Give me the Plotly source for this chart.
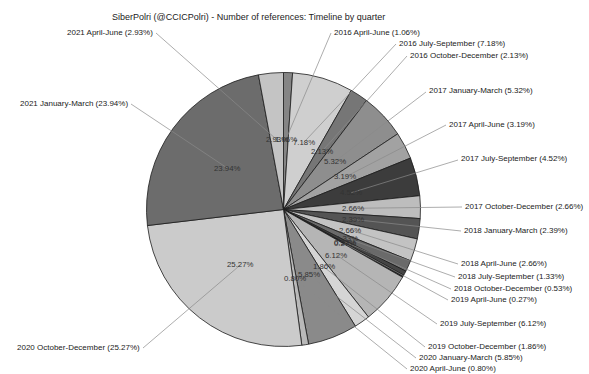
import math
import plotly.graph_objects as go

# Quarterly share of references (percent of total)
quarters = [
    "2016 April-June", "2016 July-September", "2016 October-December",
    "2017 January-March", "2017 April-June", "2017 July-September",
    "2017 October-December", "2018 January-March", "2018 April-June",
    "2018 July-September", "2018 October-December", "2019 April-June",
    "2019 July-September", "2019 October-December", "2020 January-March",
    "2020 April-June", "2020 October-December", "2021 January-March",
    "2021 April-June",
]
shares = [
    1.06, 7.18, 2.13,
    5.32, 3.19, 4.52,
    2.66, 2.39, 2.66,
    1.33, 0.53, 0.27,
    6.12, 1.86, 5.85,
    0.80, 25.27, 23.94,
    2.93,
]
slice_grays = [
    "#858585", "#cfcfcf", "#767676",
    "#8e8e8e", "#a2a2a2", "#3c3c3c",
    "#bdbdbd", "#545454", "#c3c3c3",
    "#6a6a6a", "#444444", "#222222",
    "#b5b5b5", "#d5d5d5", "#8a8a8a",
    "#b9b9b9", "#cbcbcb", "#6c6c6c",
    "#c4c4c4",
]

# Label anchor points (pixels): right-hand labels are left-aligned at x,
# left-hand labels are right-aligned at x
label_pos = [
    (333, 32, "left"), (398, 43, "left"), (409, 55, "left"),
    (428, 91, "left"), (448, 124, "left"), (460, 159, "left"),
    (464, 206, "left"), (463, 230, "left"), (460, 263, "left"),
    (457, 276, "left"), (453, 288, "left"), (450, 299, "left"),
    (439, 323, "left"), (427, 346, "left"), (418, 357, "left"),
    (409, 368, "left"), (141, 347, "right"), (129, 103, "right"),
    (154, 32, "right"),
]

W, H = 589, 374
CX, CY, R = 283.5, 209.5, 137
R_TEXT = 0.51 * R
FONT = "Liberation Sans, Arial, sans-serif"


def px(x):
    return x / W


def py(y):
    return 1 - y / H


fig = go.Figure()
fig.add_trace(go.Pie(
    labels=quarters,
    values=shares,
    sort=False,
    direction="clockwise",
    rotation=0,
    marker=dict(colors=slice_grays, line=dict(color="#1c1c1c", width=0.8)),
    textinfo="none",
    hoverinfo="label+percent",
    showlegend=False,
    domain=dict(x=[px(CX - R), px(CX + R)], y=[py(CY + R), py(CY - R)]),
))

total = sum(shares)
shapes = []
annotations = []
cum = 0.0
for q, v, (lx, ly, side) in zip(quarters, shares, label_pos):
    mid = 2 * math.pi * (cum + v / 2) / total
    cum += v
    ix = CX + R_TEXT * math.sin(mid)
    iy = CY - R_TEXT * math.cos(mid)
    # percentage inside the slice
    annotations.append(dict(
        x=px(ix), y=py(iy), xref="paper", yref="paper",
        text=f"{v:.2f}%", showarrow=False,
        xanchor="center", yanchor="middle",
        font=dict(family=FONT, size=7.8, color="#333333"),
    ))
    # outer label with leader line to the inner percentage
    sx = lx - 2 if side == "left" else lx + 2
    shapes.append(dict(
        type="line", xref="paper", yref="paper", layer="above",
        x0=px(sx), y0=py(ly + 1), x1=px(ix), y1=py(iy),
        line=dict(color="#8a8a8a", width=0.7),
    ))
    annotations.append(dict(
        x=px(lx), y=py(ly), xref="paper", yref="paper",
        text=f"{q} ({v:.2f}%)", showarrow=False,
        xanchor=side, yanchor="middle", borderpad=0,
        font=dict(family=FONT, size=8, color="#222222"),
    ))

annotations.append(dict(
    x=px(248), y=py(17), xref="paper", yref="paper",
    text="SiberPolri (@CCICPolri) - Number of references: Timeline by quarter",
    showarrow=False, xanchor="center", yanchor="middle",
    font=dict(family=FONT, size=9, color="#222222"),
))

fig.update_layout(
    width=W, height=H,
    margin=dict(l=0, r=0, t=0, b=0),
    paper_bgcolor="white",
    plot_bgcolor="white",
    shapes=shapes,
    annotations=annotations,
)

fig.write_html("out.html")
